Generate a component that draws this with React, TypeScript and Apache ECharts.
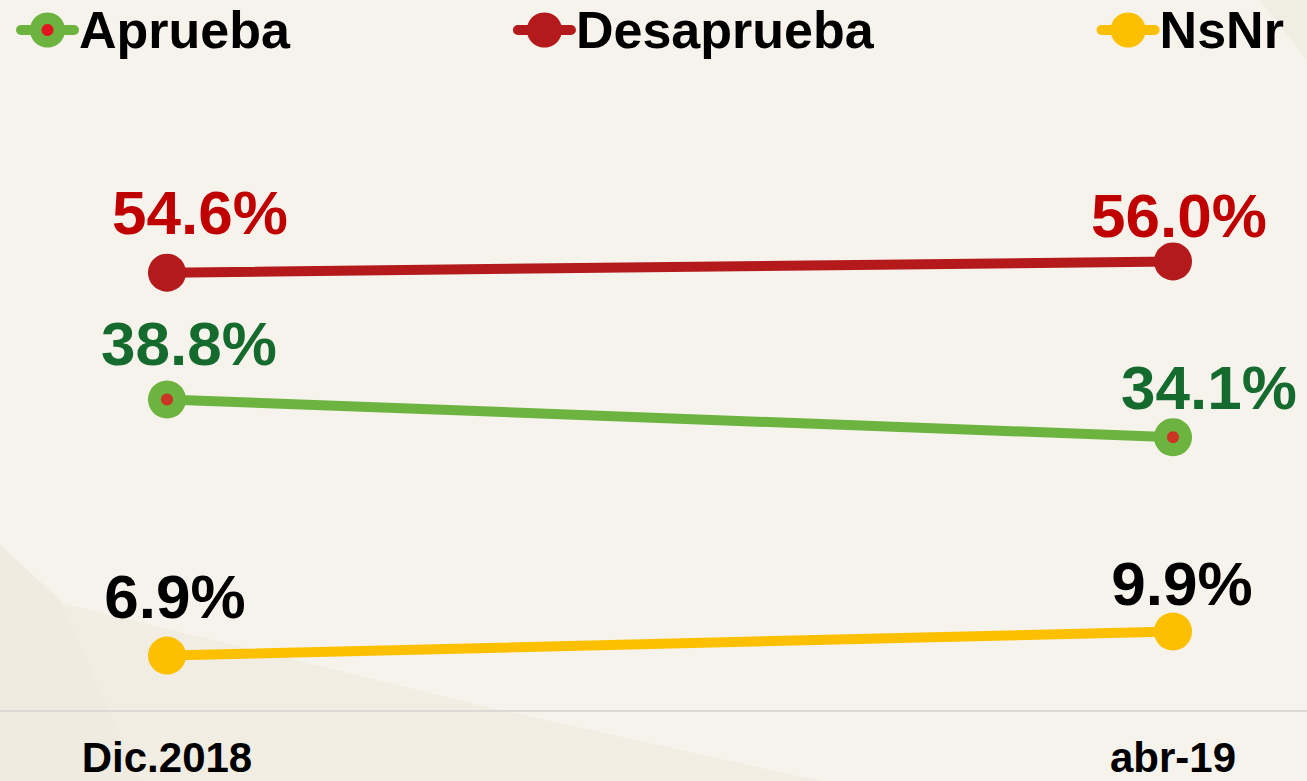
import React, { useEffect, useRef } from "react";
import * as echarts from "echarts";

const categories = ["Dic.2018", "abr-19"];
const aprueba = [38.8, 34.1];
const desaprueba = [54.6, 56.0];
const nsnr = [6.9, 9.9];
const seriesNames = ["Aprueba", "Desaprueba", "NsNr"];

const FONT = "'Liberation Sans', Arial, Helvetica, sans-serif";

const offAprueba = [[22, -1], [36, 5]];
const offDesaprueba = [[33, -5], [6, 9]];
const offNsnr = [[8, -4], [9, 7]];

function withLabels(values: number[], offs: number[][]) {
  return values.map((v, i) => ({ value: v, label: { offset: offs[i] } }));
}

export default function App() {
  const ref = useRef<HTMLDivElement>(null);
  useEffect(() => {
    document.body.style.margin = "0";
    const chart = echarts.init(ref.current!, null, { renderer: "svg" });
    const mkLine = (name: string, values: number[], offs: number[][], color: string, labelColor: string) => ({
      name,
      type: "line",
      data: withLabels(values, offs),
      symbol: "circle",
      symbolSize: 38,
      itemStyle: { color },
      lineStyle: { color, width: 10, cap: "round" },
      z: 3,
      label: {
        show: true,
        position: "top",
        distance: 5,
        fontSize: 62,
        fontWeight: "bold",
        fontFamily: FONT,
        color: labelColor,
        formatter: (p: any) => Number(p.value).toFixed(1) + "%",
      },
    });
    chart.setOption({
      animation: false,
      backgroundColor: "#f6f3ec",
      textStyle: { fontFamily: FONT },
      graphic: [
        {
          type: "polygon",
          z: -10,
          silent: true,
          shape: { points: [[0, 588], [500, 710], [820, 781], [0, 781]] },
          style: { fill: "#f1ede3" },
        },
        {
          type: "polygon",
          z: -9,
          silent: true,
          shape: { points: [[0, 545], [60, 600], [140, 781], [0, 781]] },
          style: { fill: "#efebe0" },
        },
        {
          type: "polygon",
          z: -9,
          silent: true,
          shape: { points: [[1260, 0], [1307, 0], [1307, 60]] },
          style: { fill: "#f0ede3" },
        },
        {
          type: "line",
          z: 1,
          silent: true,
          shape: { x1: 0, y1: 711, x2: 1307, y2: 711 },
          style: { stroke: "#dcdad6", lineWidth: 2 },
        },
        {
          type: "circle",
          z: 100,
          silent: true,
          shape: { cx: 47.5, cy: 30, r: 6 },
          style: { fill: "#e3141f" },
        },
      ],
      legend: {
        data: seriesNames,
        top: 4,
        left: 16,
        padding: 0,
        itemWidth: 53,
        itemHeight: 44,
        itemGap: 223,
        lineStyle: { width: 10, cap: "round" },
        textStyle: { fontSize: 52, fontWeight: "bold", color: "#000", fontFamily: FONT },
      },
      grid: { left: 167, right: 134, top: 149, bottom: 70 },
      xAxis: {
        type: "category",
        data: categories,
        boundaryGap: false,
        axisLine: { show: false },
        axisTick: { show: false },
        axisLabel: { fontSize: 42, lineHeight: 34, fontWeight: "bold", color: "#000", margin: 29, fontFamily: FONT },
      },
      yAxis: { type: "value", min: 0, max: 70, show: false, splitLine: { show: false } },
      series: [
        mkLine(seriesNames[0], aprueba, offAprueba, "#6db33f", "#156a2e"),
        mkLine(seriesNames[1], desaprueba, offDesaprueba, "#b4191b", "#c00000"),
        mkLine(seriesNames[2], nsnr, offNsnr, "#fdc000", "#000000"),
        {
          name: "dots",
          type: "scatter",
          data: aprueba,
          symbol: "circle",
          symbolSize: 12,
          itemStyle: { color: "#e3141f" },
          z: 10,
          silent: true,
        },
      ],
    });
    return () => chart.dispose();
  }, []);
  return <div ref={ref} style={{ width: 1307, height: 781 }} />;
}
